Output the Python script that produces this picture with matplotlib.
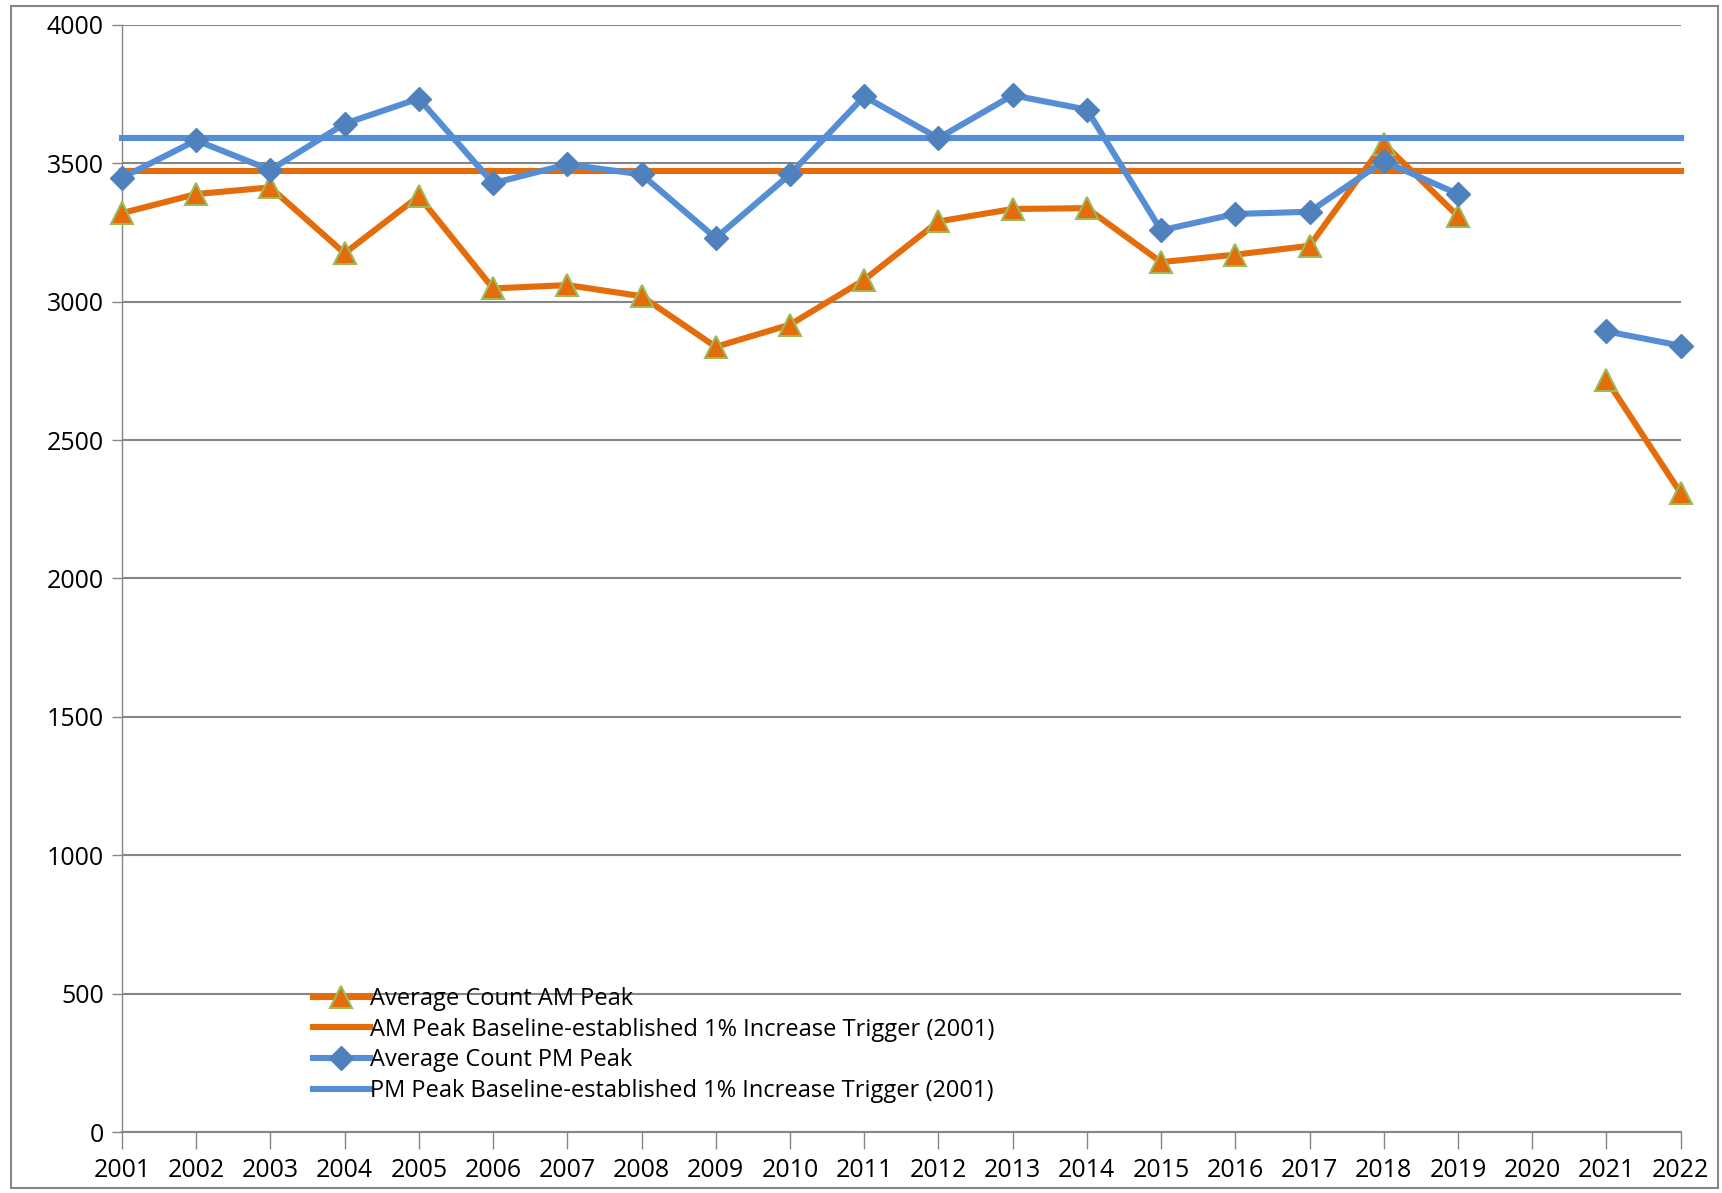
import numpy as np
import matplotlib
matplotlib.use("Agg")
import matplotlib.pyplot as plt
from matplotlib.patches import Rectangle

years = [str(y) for y in range(2001, 2023)]
am_peak = [3320, 3389, 3413, 3175, 3381, 3048, 3060, 3020, 2837, 2917, 3079,
           3290, 3335, 3338, 3143, 3170, 3202, 3571, 3309, np.nan, 2718, 2309]
pm_peak = [3448, 3583, 3476, 3643, 3734, 3428, 3496, 3460, 3230, 3460, 3742,
           3591, 3746, 3694, 3258, 3317, 3325, 3508, 3389, np.nan, 2893, 2841]
am_baseline = 3472
pm_baseline = 3591

ORANGE = "#E46C0A"
BLUE = "#558ED5"
BLUE_MK = "#4F81BD"
GREEN_EDGE = "#9BBB59"
GRID = "#868686"

plt.rcParams.update({"font.family": ["Open Sans", "DejaVu Sans"], "font.size": 18})

fig = plt.figure(figsize=(17.22, 11.93), dpi=100)
ax = fig.add_axes([0.0708, 0.0511, 0.9052, 0.9280])

# outer chart border
fig.patches.append(Rectangle((0.0064, 0.004), 0.991, 0.991, transform=fig.transFigure,
                             fill=False, edgecolor=GRID, linewidth=1.5))

x = np.arange(len(years))

ax.plot(x, am_peak, "-^", color=ORANGE, lw=4.4, markersize=16,
        markerfacecolor=ORANGE, markeredgecolor=GREEN_EDGE, markeredgewidth=1.5,
        label="Average Count AM Peak", zorder=3)
ax.plot(x, [am_baseline] * len(x), "-", color=ORANGE, lw=4.4,
        label="AM Peak Baseline-established 1% Increase Trigger (2001)", zorder=3)
ax.plot(x, pm_peak, "-D", color=BLUE, lw=4.4, markersize=12,
        markerfacecolor=BLUE_MK, markeredgecolor=BLUE_MK,
        label="Average Count PM Peak", zorder=4)
ax.plot(x, [pm_baseline] * len(x), "-", color=BLUE, lw=4.4,
        label="PM Peak Baseline-established 1% Increase Trigger (2001)", zorder=3)

ax.set_xlim(0, len(x) - 1)
ax.set_ylim(0, 4000)
ax.set_yticks(np.arange(0, 4001, 500))
ax.set_xticks(x)
ax.set_xticklabels(years)
ax.yaxis.grid(True, color=GRID, lw=1.5)
ax.set_axisbelow(True)
ax.tick_params(axis="x", direction="out", length=12, width=1, color=GRID, pad=7)
ax.tick_params(axis="y", direction="out", length=7, width=1, color=GRID, pad=6)
for s in ["top", "right"]:
    ax.spines[s].set_visible(False)
ax.spines["left"].set_color(GRID)
ax.spines["bottom"].set_color(GRID)
ax.spines["bottom"].set_linewidth(1.5)
ax.spines["left"].set_linewidth(1)
for ln in ax.lines:
    ln.set_clip_on(False)

ax.legend(loc="upper left", bbox_to_anchor=(0.1225, 0.131), frameon=False,
          handlelength=2.4, handletextpad=0.0, labelspacing=0.28, borderaxespad=0,
          borderpad=0, fontsize=17)

fig.savefig("out.png", dpi=100)
